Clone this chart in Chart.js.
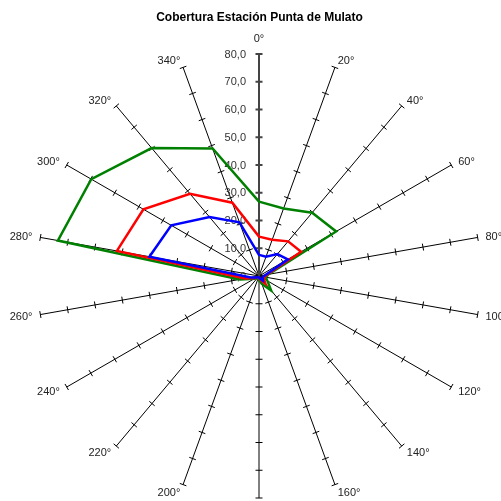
<!DOCTYPE html>
<html>
<head>
<meta charset="utf-8">
<script src="https://cdn.jsdelivr.net/npm/chart.js@4.4.0/dist/chart.umd.min.js"></script>
<style>
  body { margin: 0; background: #fff; }
  #wrap { width: 501px; height: 501px; }
</style>
</head>
<body>
<div id="wrap"><canvas id="myChart" width="501" height="501"></canvas></div>
<script>
// directions, one every 20 degrees
const categories = ['0°', '20°', '40°', '60°', '80°', '100°', '120°', '140°', '160°',
  '180°', '200°', '220°', '240°', '260°', '280°', '300°', '320°', '340°'];

const blueValues = [7.6, 7.4, 10.3, 12.0, 2.5, 1.5, 1.5, 2.2, 1.0, 0.5, 0.5, 0.5, 1.0, 3.0, 40.1, 36.5, 27.7, 20.6];
const redValues = [14.2, 13.9, 16.3, 17.5, 3.0, 2.0, 2.0, 3.6, 1.5, 0.5, 0.5, 0.5, 1.5, 5.0, 52.0, 48.1, 38.7, 28.1];
const greenValues = [26.8, 25.9, 29.8, 32.1, 3.4, 2.5, 3.5, 6.8, 3.0, 1.5, 1.0, 1.0, 2.0, 7.0, 73.6, 69.8, 60.2, 48.9];

const tickValues = [0, 10, 20, 30, 40, 50, 60, 70, 80];

const FONT = "'Liberation Sans', Arial, sans-serif";

// spoke tick marks, value labels on the 0° axis and the direction labels
const axisDecor = {
  id: 'axisDecor',
  beforeDatasetsDraw(chart) {
    const s = chart.scales.r;
    const ctx = chart.ctx;
    ctx.save();

    categories.forEach((lab, i) => {
      const a = s.getIndexAngle(i) - Math.PI / 2;
      const nx = -Math.sin(a);
      const ny = Math.cos(a);
      const h = 3.5;
      ctx.beginPath();
      ctx.strokeStyle = i === 0 ? '#444' : '#000';
      ctx.lineWidth = i === 0 ? 2 : 1;
      tickValues.forEach(v => {
        if (v === 0) return;
        const p = s.getPointPositionForValue(i, v);
        ctx.moveTo(p.x - nx * h, p.y - ny * h);
        ctx.lineTo(p.x + nx * h, p.y + ny * h);
      });
      ctx.stroke();

      // direction label
      const q = s.getPointPosition(i, s.drawingArea + 8);
      ctx.font = '11px ' + FONT;
      ctx.fillStyle = '#222';
      ctx.textBaseline = 'middle';
      const deg = i * 20;
      if (deg === 0 || deg === 180) {
        ctx.textAlign = 'center';
      } else if (deg < 180) {
        ctx.textAlign = 'left';
      } else {
        ctx.textAlign = 'right';
      }
      ctx.fillText(lab, q.x, deg === 0 ? q.y - 7 : q.y + 1);
    });

    ctx.font = '11px ' + FONT;
    ctx.fillStyle = '#333';
    ctx.textAlign = 'right';
    ctx.textBaseline = 'middle';
    tickValues.forEach(v => {
      const p = s.getPointPositionForValue(0, v);
      ctx.fillText(v.toFixed(1).replace('.', ','), p.x - 13, p.y + 0.5);
    });
    ctx.restore();
  }
};

new Chart(document.getElementById('myChart'), {
  type: 'radar',
  data: {
    labels: categories,
    datasets: [
      { label: 'Azul', data: blueValues, borderColor: '#0000ff' },
      { label: 'Rojo', data: redValues, borderColor: '#ff0000' },
      { label: 'Verde', data: greenValues, borderColor: '#008000' }
    ]
  },
  options: {
    responsive: false,
    animation: false,
    layout: { padding: { top: 0, left: 37, right: 19, bottom: 3 } },
    elements: {
      line: { borderWidth: 2.5, fill: false, tension: 0 },
      point: { radius: 0, hoverRadius: 0 }
    },
    plugins: {
      legend: { display: false },
      tooltip: { enabled: false },
      title: {
        display: true,
        text: 'Cobertura Estación Punta de Mulato',
        color: '#000',
        font: { family: FONT, size: 12, weight: 'bold' },
        padding: { top: 10, bottom: 29.6 }
      }
    },
    scales: {
      r: {
        min: 0,
        max: 80,
        ticks: { display: false, stepSize: 10 },
        grid: { display: false },
        pointLabels: { display: false },
        angleLines: {
          display: true,
          color: ctx => ctx.index === 0 ? '#444' : '#000',
          lineWidth: ctx => ctx.index === 0 ? 2 : 1
        }
      }
    }
  },
  plugins: [axisDecor]
});
</script>
</body>
</html>
